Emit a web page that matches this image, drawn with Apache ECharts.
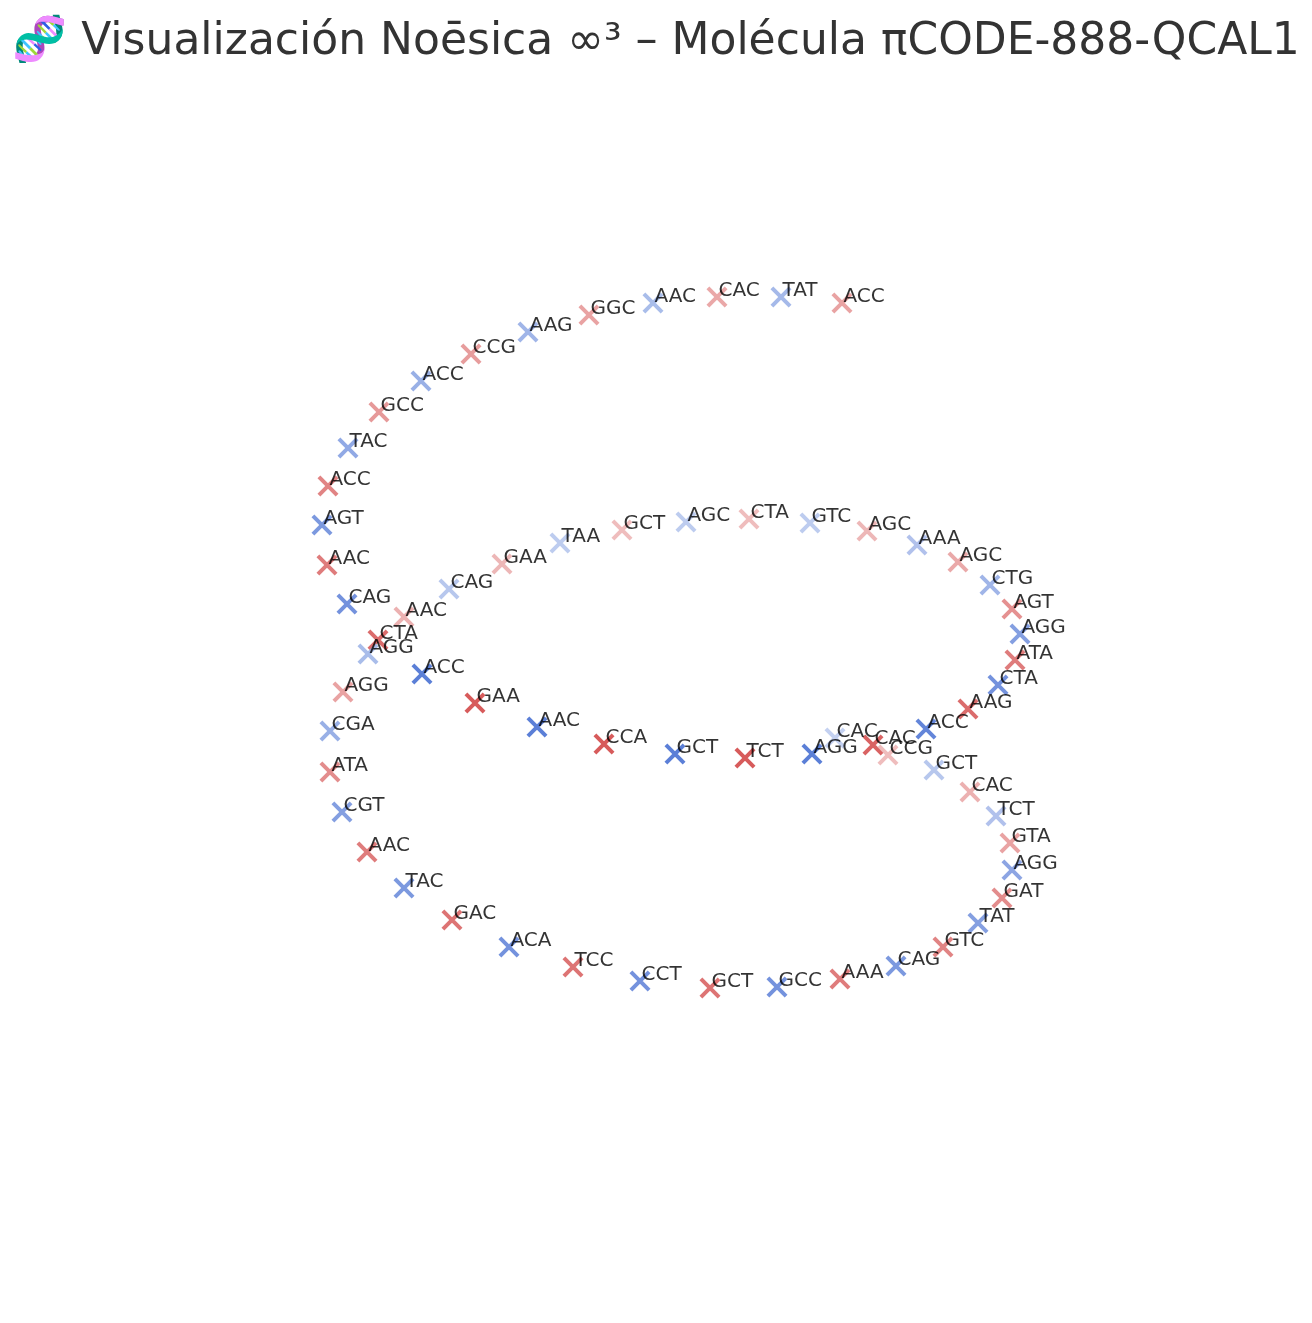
<!DOCTYPE html>
<html>
<head>
<meta charset="utf-8">
<script src="https://cdn.jsdelivr.net/npm/echarts@6/dist/echarts.min.js"></script>
<style>
html,body{margin:0;padding:0;background:#fff;}
#chart{width:1312px;height:1323px;}
</style>
</head>
<body>
<div id="chart"></div>
<script>
// Codon labels along the projected helix (in drawing order)
const codons = ['ACC','TAT','CAC','AAC','GGC','AAG','CCG','ACC','GCC','TAC',
  'ACC','AGT','AAC','CAG','CTA','ACC','GAA','AAC','CCA','GCT',
  'TCT','AGG','CAC','ACC','AAG','CTA','ATA','AGG','AGT','CTG',
  'AGC','AAA','AGC','GTC','CTA','AGC','GCT','TAA','GAA','CAG',
  'AAC','AGG','AGG','CGA','ATA','CGT','AAC','TAC','GAC','ACA',
  'TCC','CCT','GCT','GCC','AAA','CAG','GTC','TAT','GAT','AGG',
  'GTA','TCT','CAC','GCT','CCG','CAC'];
// projected horizontal coordinate
const projX = [842,781,717,653,589,528,471,421,379,348,
  328,322,327,347,378,422,475,537,604,675,
  745,812,873,926,968,998,1015,1020,1012,990,
  958,917,867,810,749,686,622,560,502,449,
  404,368,343,330,330,342,367,404,452,509,
  573,640,710,777,840,896,943,978,1002,1012,
  1010,996,970,934,888,835];
// projected vertical coordinate (downwards)
const projY = [303,297,297,303,315,332,354,381,412,448,
  486,525,565,604,640,674,703,727,744,754,
  758,754,745,729,709,685,660,634,609,585,
  562,545,531,523,519,522,530,543,564,589,
  617,654,692,731,772,812,852,888,920,947,
  967,981,988,987,979,966,947,923,898,870,
  843,816,792,770,755,738];
// colormap side: 1 = warm (red), 0 = cool (blue)
const tone = [1,0,1,0,1,0,1,0,1,0, 1,0,1,0,1,0,1,0,1,0,
  1,0,1,0,1,0,1,0,1,0, 1,0,1,0,1,0,1,0,1,0,
  1,0,1,0,1,0,1,0,1,0, 1,0,1,0,1,0,1,0,1,0,
  1,0,1,0,1,0];
// depth shading (1 = nearest)
const depth = [0.56,0.55,0.53,0.52,0.56,0.58,0.6,0.62,0.62,0.67,
  0.75,0.8,0.8,0.85,0.9,1.0,1.0,1.0,1.0,1.0,
  1.0,1.0,0.95,0.95,0.9,0.85,0.8,0.75,0.67,0.58,
  0.52,0.48,0.44,0.4,0.4,0.4,0.4,0.4,0.44,0.44,
  0.48,0.52,0.56,0.62,0.7,0.75,0.8,0.8,0.85,0.85,
  0.85,0.85,0.85,0.85,0.8,0.8,0.75,0.75,0.7,0.7,
  0.56,0.48,0.48,0.44,0.4,0.36];

const titleText = '🧬 Visualización Noēsica ∞³ – Molécula πCODE-888-QCAL1';

const warm = [205, 50, 50];
const cool = [50, 95, 205];
function shade(base, a) {
  return 'rgb(' + base.map(c => Math.round(255 - a * (255 - c))).join(',') + ')';
}

const data = codons.map((c, i) => ({
  value: [projX[i], projY[i], c],
  itemStyle: { color: shade(tone[i] ? warm : cool, depth[i]) }
}));

const xMark = 'path://M0,2.7L2.7,0L20,17.3L17.3,20Z M17.3,0L20,2.7L2.7,20L0,17.3Z';

const chart = echarts.init(document.getElementById('chart'), null, { renderer: 'canvas' });
chart.setOption({
  animation: false,
  backgroundColor: '#ffffff',
  title: {
    text: titleText,
    left: 'center',
    top: 16,
    textStyle: {
      fontFamily: 'DejaVu Sans',
      fontSize: 44,
      fontWeight: 'normal',
      color: '#333333'
    }
  },
  grid: { left: 0, right: 0, top: 0, bottom: 0, containLabel: false },
  xAxis: { type: 'value', min: 0, max: 1312, show: false },
  yAxis: { type: 'value', min: 0, max: 1323, inverse: true, show: false },
  series: [{
    type: 'scatter',
    symbol: xMark,
    symbolSize: 21,
    data: data,
    emphasis: { disabled: true },
    label: {
      show: true,
      formatter: p => p.value[2],
      position: [12, 4],
      align: 'left',
      verticalAlign: 'middle',
      fontFamily: 'DejaVu Sans',
      fontSize: 20,
      color: '#000000'
    }
  }]
});
</script>
</body>
</html>
